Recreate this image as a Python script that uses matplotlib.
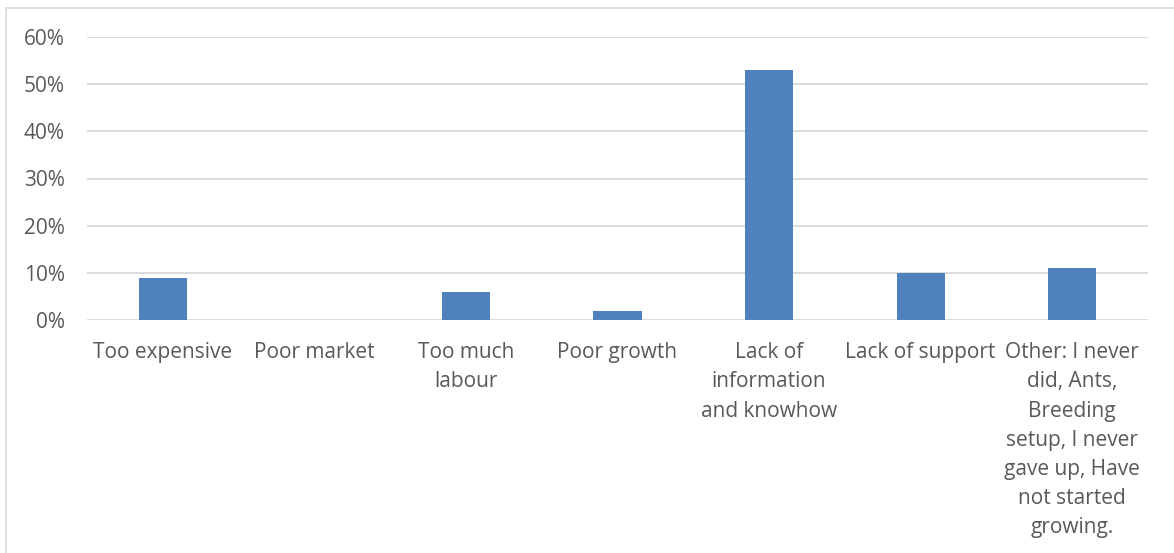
import matplotlib
matplotlib.use("Agg")
import matplotlib.pyplot as plt
from matplotlib.patches import Rectangle
from matplotlib.ticker import PercentFormatter

plt.rcParams['font.family'] = ['Open Sans', 'DejaVu Sans']

# data
categories = [
    "Too expensive",
    "Poor market",
    "Too much\nlabour",
    "Poor growth",
    "Lack of\ninformation\nand knowhow",
    "Lack of support",
    "Other: I never\ndid, Ants,\nBreeding\nsetup, I never\ngave up, Have\nnot started\ngrowing.",
]
shares = [9, 0, 6, 2, 53, 10, 11]
y_ticks = [0, 10, 20, 30, 40, 50, 60]

W, H = 1174, 553
fig = plt.figure(figsize=(W / 100, H / 100), dpi=100)
ax = fig.add_axes([87 / W, 1 - 320 / H, (1148 - 87) / W, (320 - 37) / H])

x = range(len(categories))
ax.bar(x, shares, width=0.317, color="#4f81bd", zorder=3)

ax.set_xlim(-0.5, len(categories) - 0.5)
ax.set_ylim(0, 60)
ax.set_yticks(y_ticks)
ax.yaxis.set_major_formatter(PercentFormatter(decimals=0))
ax.set_xticks(list(x))
ax.set_xticklabels(categories, linespacing=1.51, va="top")
ax.grid(axis="y", color="#d9d9d9", linewidth=1.3, zorder=0)
ax.tick_params(axis="both", length=0, labelsize=15, labelcolor="#595959")
ax.tick_params(axis="y", pad=16)
ax.tick_params(axis="x", pad=16)
for s in ax.spines.values():
    s.set_visible(False)

# chart area frame (only left and top edges visible in the crop)
fig.patches.append(Rectangle((5.5 / W, -0.1), 1.2, 1 - 8.5 / H + 0.1,
                             transform=fig.transFigure, fill=False,
                             edgecolor="#d9d9d9", linewidth=1.2))

fig.savefig("out.png", dpi=100)
